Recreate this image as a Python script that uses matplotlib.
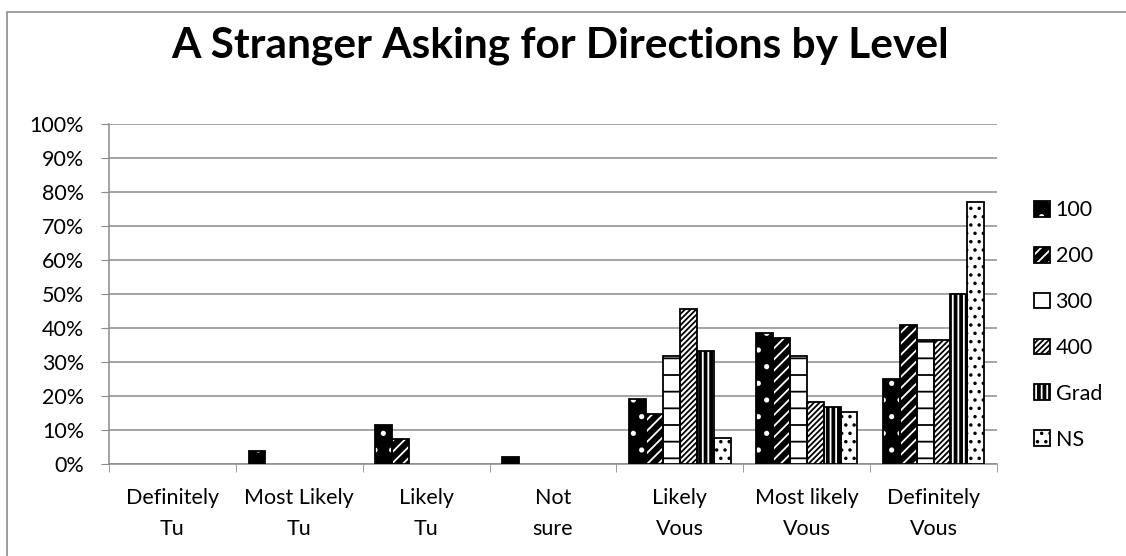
import numpy as np
import matplotlib

matplotlib.use("Agg")
import matplotlib.pyplot as plt
from matplotlib.patches import Rectangle
from matplotlib.legend_handler import HandlerTuple

categories = ["Definitely\nTu", "Most Likely\nTu", "Likely\nTu", "Not\nsure",
              "Likely\nVous", "Most likely\nVous", "Definitely\nVous"]
levels = ["100", "200", "300", "400", "Grad", "NS"]

# share of each level choosing each answer (%)
pct_100 = [0.0, 3.85, 11.54, 1.92, 19.23, 38.46, 25.00]
pct_200 = [0.0, 0.0, 7.41, 0.0, 14.81, 37.04, 40.74]
pct_300 = [0.0, 0.0, 0.0, 0.0, 31.82, 31.82, 36.36]
pct_400 = [0.0, 0.0, 0.0, 0.0, 45.45, 18.18, 36.36]
pct_grad = [0.0, 0.0, 0.0, 0.0, 33.33, 16.67, 50.00]
pct_ns = [0.0, 0.0, 0.0, 0.0, 7.69, 15.38, 76.92]
series = [pct_100, pct_200, pct_300, pct_400, pct_grad, pct_ns]

# (fill colour, hatch colour, hatch) per level
STYLES = [
    ("black", "white", "."),
    ("black", "white", "///"),
    ("white", "black", "-"),
    ("white", "black", "//////"),
    ("black", "white", "|||"),
    ("white", "black", ".."),
]

FONT = ["Lato", "DejaVu Sans"]
plt.rcParams["font.family"] = FONT
plt.rcParams["hatch.linewidth"] = 1.3
FS = 15.5

fig = plt.figure(figsize=(11.26, 5.56), dpi=100)
ax = fig.add_axes([109 / 1126, 92 / 556, 888 / 1126, 340 / 556])

# chart frame (only left and top edges fall inside the image)
fig.patches.append(Rectangle((7 / 1126, -0.05), 1.2, (556 - 12) / 556 + 0.05,
                             transform=fig.transFigure, fill=False,
                             edgecolor="#8c8c8c", linewidth=1.2, zorder=0))

x = np.arange(len(categories))
n = len(series)
w = 0.8 / n
handles = []
for i, (vals, (fc, hc, hatch)) in enumerate(zip(series, STYLES)):
    offs = x + (i - (n - 1) / 2) * w
    keep = [j for j, v in enumerate(vals) if v > 0]
    pos = offs[keep]
    h = np.array(vals)[keep]
    # hatched fill first, then a plain black outline on top
    b1 = ax.bar(pos, h, width=w, color=fc, edgecolor=hc, hatch=hatch,
                linewidth=0, zorder=3)
    b2 = ax.bar(pos, h, width=w, fill=False, edgecolor="black",
                linewidth=1.3, zorder=4)
    handles.append((b1.patches[0], b2.patches[0]))

ax.set_xlim(-0.5, len(categories) - 0.5)
ax.set_ylim(0, 100)
ax.set_yticks(np.arange(0, 101, 10))
ax.set_yticklabels([f"{v}%" for v in range(0, 101, 10)], fontsize=FS)
ax.set_xticks(x)
ax.set_xticklabels(categories, fontsize=FS, linespacing=1.7)
ax.set_xticks(np.arange(-0.5, len(categories)), minor=True)
ax.tick_params(axis="x", which="major", length=0, pad=17)
ax.tick_params(axis="x", which="minor", length=6, color="#8c8c8c")
ax.tick_params(axis="y", length=6, color="#8c8c8c", pad=12)
ax.grid(axis="y", color="#8c8c8c", linewidth=1.1, zorder=0)
ax.set_axisbelow(True)
for s in ("top", "right"):
    ax.spines[s].set_visible(False)
for s in ("left", "bottom"):
    ax.spines[s].set_color("#8c8c8c")
    ax.spines[s].set_linewidth(1.1)

fig.text(0.497, 0.918, "A Stranger Asking for Directions by Level",
         ha="center", va="center", fontsize=30.5, fontweight="bold")

fig.legend(handles, levels, handler_map={tuple: HandlerTuple(ndivide=1, pad=0)},
           loc="center left", bbox_to_anchor=(1034 / 1126, 1 - 325 / 556),
           frameon=False, fontsize=FS, handlelength=0.75, handleheight=0.75,
           handletextpad=0.25, labelspacing=1.2, borderaxespad=0, borderpad=0)

fig.savefig("out.png", dpi=100)
